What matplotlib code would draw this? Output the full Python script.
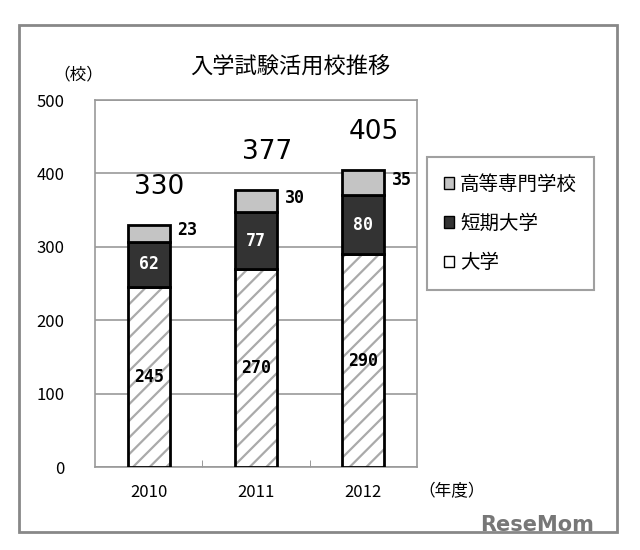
import matplotlib
matplotlib.use('Agg')
import matplotlib.pyplot as plt
import numpy as np
from matplotlib.patches import Rectangle, Patch

plt.rcParams['font.family'] = ['Noto Sans CJK JP', 'DejaVu Sans']
plt.rcParams['hatch.linewidth'] = 1.6

years = ['2010', '2011', '2012']
univ = [245, 270, 290]
junior = [62, 77, 80]
tech = [23, 30, 35]
totals = [330, 377, 405]

fig = plt.figure(figsize=(6.4, 5.5), dpi=100)
ax = fig.add_axes([95/640, 1-467/550, 322/640, 367/550])

# Outer frame
fig.patches.append(Rectangle((19/640, 1-532/550), 598/640, 507/550,
                             transform=fig.transFigure, fill=False,
                             edgecolor='#888888', lw=2))

x = np.arange(len(years))
w = 0.39
# hatched part drawn with grey edge, then a black outline over it
ax.bar(x, univ, w, color='white', edgecolor='#aaaaaa', lw=0, hatch='//', zorder=3)
ax.bar(x, univ, w, fill=False, edgecolor='black', lw=2, zorder=4)
ax.bar(x, junior, w, bottom=univ, color='#333333', edgecolor='black', lw=2, zorder=4)
bottom3 = [u + j for u, j in zip(univ, junior)]
ax.bar(x, tech, w, bottom=bottom3, color='#c4c4c4', edgecolor='black', lw=2, zorder=4)

# Segment labels
for i in range(len(years)):
    ax.text(x[i], univ[i] / 2, str(univ[i]), ha='center', va='center',
            fontsize=12, fontweight='bold', color='black', family='DejaVu Sans Mono', zorder=5)
    ax.text(x[i], univ[i] + junior[i] / 2, str(junior[i]), ha='center', va='center',
            fontsize=12, fontweight='bold', color='white', family='DejaVu Sans Mono', zorder=5)
    ax.text(x[i] + w / 2 + 0.07, bottom3[i] + tech[i] / 2 + 4, str(tech[i]), ha='left', va='center',
            fontsize=12, fontweight='bold', color='black', family='DejaVu Sans Mono', zorder=5)
    ax.text(x[i] + 0.1, totals[i] + 52, str(totals[i]), ha='center', va='center',
            fontsize=19, color='black', family='DejaVu Sans', zorder=5)

ax.set_xlim(-0.5, 2.5)
ax.set_ylim(0, 500)
ax.set_yticks([0, 100, 200, 300, 400, 500])
ax.tick_params(axis='y', length=0, labelsize=12, pad=22)
ax.set_xticks(x)
ax.set_xticklabels(years)
ax.tick_params(axis='x', length=0, labelsize=12, pad=12)
ax.set_xticks([0.5, 1.5], minor=True)
ax.tick_params(axis='x', which='minor', direction='in', length=5, color='#888888')
ax.yaxis.grid(True, color='#999999', lw=1.2, zorder=0)
for s in ax.spines.values():
    s.set_color('#999999')
    s.set_linewidth(1.2)

fig.text(290/640, 1-67/550, '入学試験活用校推移', ha='center', va='center', fontsize=16)
fig.text(78/640, 1-75/550, '（校）', ha='center', va='center', fontsize=12)
fig.text(452/640, 1-492/550, '（年度）', ha='center', va='center', fontsize=12)
fig.text(594/640, 1-525/550, 'ReseMom', ha='right', va='center', fontsize=15,
         fontweight='bold', color='#777777', family='DejaVu Sans')

handles = [Patch(facecolor='#c4c4c4', edgecolor='black'),
           Patch(facecolor='#333333', edgecolor='black'),
           Patch(facecolor='white', edgecolor='black')]
leg = ax.legend(handles, ['高等専門学校', '短期大学', '大学'], loc='upper left',
                bbox_to_anchor=(427/640, 1-157/550), bbox_transform=fig.transFigure,
                fontsize=14, fancybox=False, edgecolor='#888888', handlelength=0.55,
                handleheight=0.55, handletextpad=0.3, labelspacing=0.95,
                borderpad=0.85, borderaxespad=0)
leg.get_frame().set_linewidth(1.5)

fig.savefig('out.png', dpi=100)
